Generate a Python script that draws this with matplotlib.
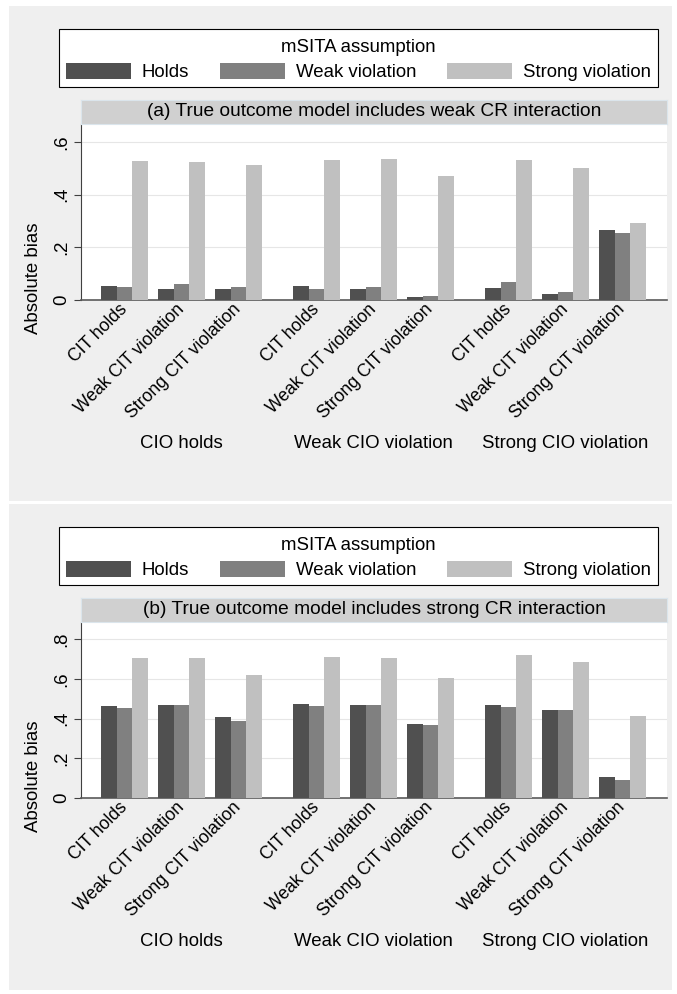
import numpy as np
import matplotlib
matplotlib.use("Agg")
import matplotlib.pyplot as plt
from matplotlib.patches import Patch, Rectangle
from matplotlib.transforms import blended_transform_factory

plt.rcParams['font.family'] = ['Liberation Sans', 'DejaVu Sans']

# ---- data ----
cio_groups = ["CIO holds", "Weak CIO violation", "Strong CIO violation"]
cit_labels = ["CIT holds", "Weak CIT violation", "Strong CIT violation"]
msita = ["Holds", "Weak violation", "Strong violation"]

a_holds = [0.054, 0.042, 0.042, 0.054, 0.042, 0.011, 0.046, 0.023, 0.266]
a_weak = [0.049, 0.061, 0.049, 0.042, 0.049, 0.015, 0.068, 0.030, 0.254]
a_strong = [0.528, 0.524, 0.513, 0.532, 0.535, 0.471, 0.532, 0.501, 0.292]

b_holds = [0.462, 0.468, 0.407, 0.471, 0.468, 0.371, 0.468, 0.444, 0.108]
b_weak = [0.454, 0.468, 0.386, 0.462, 0.468, 0.366, 0.459, 0.444, 0.093]
b_strong = [0.705, 0.705, 0.619, 0.711, 0.705, 0.606, 0.721, 0.685, 0.412]

a_ticks = [0, 0.2, 0.4, 0.6]
a_ticklabels = ["0", ".2", ".4", ".6"]
b_ticks = [0, 0.2, 0.4, 0.6, 0.8]
b_ticklabels = ["0", ".2", ".4", ".6", ".8"]

titles = ["(a) True outcome model includes weak CR interaction",
          "(b) True outcome model includes strong CR interaction"]

colors = ["#505050", "#808080", "#c0c0c0"]
bg = "#efefef"
FS = 13.4

W, H = 677, 994
fig = plt.figure(figsize=(W / 100, H / 100), dpi=100)
fig.patch.set_facecolor("white")


def box(x0, y0, x1, y1):
    # pixel box (top-left origin) -> figure fraction rect
    return [x0 / W, 1 - y1 / H, (x1 - x0) / W, (y1 - y0) / H]


# cluster / bar layout (in bar-width units)
gi = np.repeat(np.arange(3), 3)
ci = np.tile(np.arange(3), 3)
centers = gi * 12.25 + ci * 3.64 + 1.5
group_centers = centers[1::3]


def panel(dy, series, ticks, ticklabels, ymax, title):
    # gray graph region
    r = box(9, 6 + dy, 672, 501 + dy if dy == 0 else 990)
    fig.patches.append(Rectangle((r[0], r[1]), r[2], r[3], transform=fig.transFigure,
                                 facecolor=bg, edgecolor="none", zorder=-10))

    ax = fig.add_axes(box(81, 124 + dy, 667, 300 + dy))
    for k, vals in enumerate(series):
        ax.bar(centers + (k - 1), vals, width=1.0, color=colors[k], zorder=3)
    ax.set_xlim(-1.28, 36.12)
    ax.set_ylim(0, ymax)
    ax.set_yticks(ticks)
    ax.set_yticklabels(ticklabels, rotation=90, va="center", fontsize=FS)
    ax.set_xticks(centers)
    ax.set_xticklabels(cit_labels * 3, rotation=45, ha="right", va="center",
                       rotation_mode="anchor", fontsize=12.7)
    ax.tick_params(axis="x", length=0, pad=5)
    ax.tick_params(axis="y", length=5, width=0.8, color="#404040", pad=3)
    ax.grid(axis="y", color="#e6e6e6", linewidth=0.8, zorder=0)
    ax.set_axisbelow(True)
    for s in ["top", "right"]:
        ax.spines[s].set_visible(False)
    ax.spines["left"].set_color("#404040")
    ax.spines["left"].set_linewidth(0.8)
    ax.spines["bottom"].set_color("#5a5a5a")
    ax.spines["bottom"].set_linewidth(1.2)

    # group labels under the rotated tick labels
    tr = blended_transform_factory(ax.transData, fig.transFigure)
    for gc, name in zip(group_centers, cio_groups):
        ax.text(gc, 1 - (443 + dy) / H, name, transform=tr, ha="center", va="center",
                fontsize=FS)

    fig.text(33 / W, 1 - (278 + dy) / H, "Absolute bias", rotation=90,
             ha="center", va="center", fontsize=FS)

    # title strip
    sx = fig.add_axes(box(81, 100 + dy, 667, 124 + dy))
    sx.set_facecolor("#d0d0d0")
    sx.set_xticks([])
    sx.set_yticks([])
    for s in sx.spines.values():
        s.set_color("#dbe5ec")
        s.set_linewidth(0.8)
    sx.text(0.5, 0.5, title, ha="center", va="center", fontsize=13.8,
            transform=sx.transAxes)

    # legend: frame drawn separately, entries placed inside it
    fr = box(59, 29 + dy, 658, 87 + dy)
    fig.patches.append(Rectangle((fr[0], fr[1]), fr[2], fr[3], transform=fig.transFigure,
                                 facecolor="white", edgecolor="black", linewidth=0.8,
                                 zorder=-5))
    handles = [Patch(facecolor=c, edgecolor="none") for c in colors]
    lb = box(59, 30 + dy, 658, 90 + dy)
    fig.legend(handles, msita, ncol=3, mode="expand", loc="center",
               bbox_to_anchor=lb, bbox_transform=fig.transFigure,
               borderaxespad=0, title="mSITA assumption", fontsize=FS,
               title_fontsize=FS, handlelength=3.5, handleheight=1.0,
               handletextpad=0.6, borderpad=0.35, labelspacing=0.37,
               frameon=False)
    return ax


panel(0, [a_holds, a_weak, a_strong], a_ticks, a_ticklabels, 0.668, titles[0])
panel(498, [b_holds, b_weak, b_strong], b_ticks, b_ticklabels, 0.886, titles[1])

fig.savefig("out.png", dpi=100, facecolor=fig.get_facecolor())
